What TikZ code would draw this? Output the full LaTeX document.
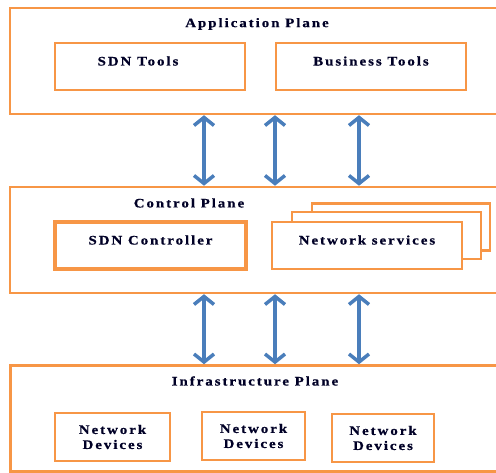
\documentclass[tikz,border=0pt]{standalone}
\usepackage{fontspec}
\setmainfont{Liberation Serif}
\usepackage{tikz}
\usetikzlibrary{arrows.meta,positioning,calc}

\definecolor{boxorange}{HTML}{F79646}
\definecolor{linkblue}{HTML}{4A7EBB}

\tikzset{
    plane/.style={draw=boxorange, line width=2.5pt, inner sep=0pt,
        minimum width=490pt, minimum height=106pt},
    toolbox/.style={draw=boxorange, line width=2.5pt, fill=white, inner sep=0pt,
        minimum height=47pt, text height=10pt, text depth=12pt},
    devbox/.style={draw=boxorange, line width=2.5pt, inner sep=0pt, align=center,
        minimum height=48pt},
    lbl/.style={text=black!85!blue,
        font=\bfseries\fontsize{13}{15}\selectfont\addfontfeatures{FakeStretch=1.15,LetterSpace=15,FakeBold=0.6}},
    link/.style={linkblue, line width=3.5pt,
        {Straight Barb[length=8pt,width=20pt]}-{Straight Barb[length=8pt,width=20pt]}}
}

\begin{document}
\begin{tikzpicture}[x=1pt, y=-1pt]
    \useasboundingbox (0,0) rectangle (496,473);
    \clip (0,0) rectangle (496,473);

    % Planes
    \node[plane] (app) at (255,61) {};
    \node[plane] (ctrl) at (255,240) {};
    \node[plane] (infra) at (255.5,418.5) {};

    \node[lbl] (apptitle) at (257,24) {Application Plane};
    \node[lbl] (ctrltitle) at (189,203) {Control Plane};
    \node[lbl] (infratitle) at (255,381) {Infrastructure Plane};

    % Application plane
    \node[toolbox, lbl, minimum width=190pt] (sdntools) at (150,66.5) {SDN Tools\kern24pt};
    \node[toolbox, lbl, minimum width=190pt] (biztools) at (371,66.5) {Business Tools};

    % Control plane
    \node[toolbox, lbl, minimum width=191pt, line width=3.5pt] (sdnctrl) at (150.5,245.5) {SDN Controller};
    \node[toolbox, minimum width=178pt] (svcback) at (401,227) {};
    \node[toolbox, minimum width=189pt] (svcmid) at (386.5,235.5) {};
    \node[toolbox, lbl, minimum width=190pt] (netsvc) at (367,245.5) {Network services};

    % Infrastructure plane
    \node[devbox, lbl, minimum width=115pt] (dev1) at (112.5,437) {Network\\Devices};
    \node[devbox, lbl, minimum width=103pt] (dev2) at (253.5,436) {Network\\Devices};
    \node[devbox, lbl, minimum width=102pt] (dev3) at (383,438) {Network\\Devices};

    % Links between planes
    \foreach \x [count=\i] in {204,275,359} {
        \coordinate (col\i) at (\x,0);
        \draw[link] (app.south -| col\i) -- (ctrl.north -| col\i);
        \draw[link] (ctrl.south -| col\i) -- (infra.north -| col\i);
    }
\end{tikzpicture}
\end{document}
